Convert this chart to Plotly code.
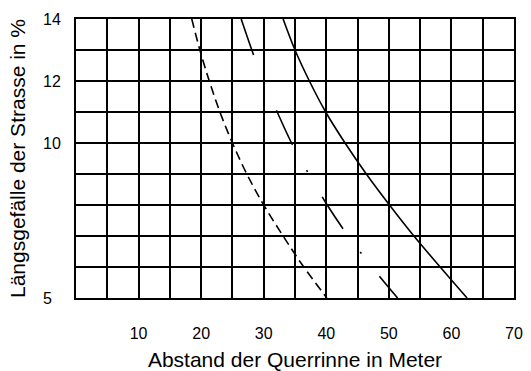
import plotly.graph_objects as go

# Data
dashed_x = [18.5, 19.8, 21.3, 23.0, 25.0, 27.3, 30.0, 33.1, 36.4, 40.1]
dashed_y = [14, 13, 12, 11, 10, 9, 8, 7, 6, 5]

dashdot_x = [26.4, 28.1, 29.95, 32.15, 34.45, 37.2, 40.15, 43.5, 47.3, 51.4]
dashdot_y = [14, 13, 12, 11, 10, 9, 8, 7, 6, 5]

solid_x = [33.1, 35.0, 37.3, 39.9, 43.0, 46.4, 50.1, 54.0, 58.2, 62.5]
solid_y = [14, 13, 12, 11, 10, 9, 8, 7, 6, 5]

x_tick_vals = [10, 20, 30, 40, 50, 60, 70]
x_tick_text = ["10", "20", "30", "40", "50", "60", "70"]
y_tick_vals = [5, 10, 12, 14]
y_tick_text = ["5\u2007", "10", "12", "14"]

FONT = "Liberation Sans, Arial, sans-serif"

fig = go.Figure()
fig.add_trace(go.Scatter(x=dashed_x, y=dashed_y, mode="lines",
                         line=dict(color="black", width=1.6, dash="9px,5px", shape="spline", smoothing=1.0),
                         showlegend=False))
fig.add_trace(go.Scatter(x=dashdot_x, y=dashdot_y, mode="lines",
                         line=dict(color="black", width=1.6, dash="38px,29px,2px,29px", shape="spline", smoothing=1.0),
                         showlegend=False))
fig.add_trace(go.Scatter(x=solid_x, y=solid_y, mode="lines",
                         line=dict(color="black", width=1.6, shape="spline", smoothing=1.0),
                         showlegend=False))

fig.update_layout(
    width=531, height=371,
    margin=dict(l=76, r=17, t=19, b=73),
    paper_bgcolor="white", plot_bgcolor="white",
    font=dict(family=FONT, color="black", size=16),
    xaxis=dict(range=[0, 70], tickvals=x_tick_vals, ticktext=x_tick_text,
               showgrid=True, gridcolor="black", gridwidth=2,
               minor=dict(dtick=5, showgrid=True, gridcolor="black", gridwidth=2),
               showline=True, linecolor="black", linewidth=2, mirror=True,
               ticks="", ticklabelstandoff=20, zeroline=False, automargin=False,
               tickfont=dict(size=16),
               title=dict(text="Abstand der Querrinne in Meter", font=dict(size=21), standoff=12)),
    yaxis=dict(range=[5, 14], tickvals=y_tick_vals, ticktext=y_tick_text,
               showgrid=True, gridcolor="black", gridwidth=2,
               minor=dict(dtick=1, showgrid=True, gridcolor="black", gridwidth=2),
               showline=True, linecolor="black", linewidth=2, mirror=True,
               ticks="", ticklabelstandoff=10, zeroline=False, automargin=False,
               tickfont=dict(size=16),
               title=dict(text="Längsgefälle der Strasse in %", font=dict(size=21), standoff=12)),
)

fig.write_html("out.html", config={"displayModeBar": False},
               post_script="document.body.style.margin='0';document.body.style.overflow='hidden';")
